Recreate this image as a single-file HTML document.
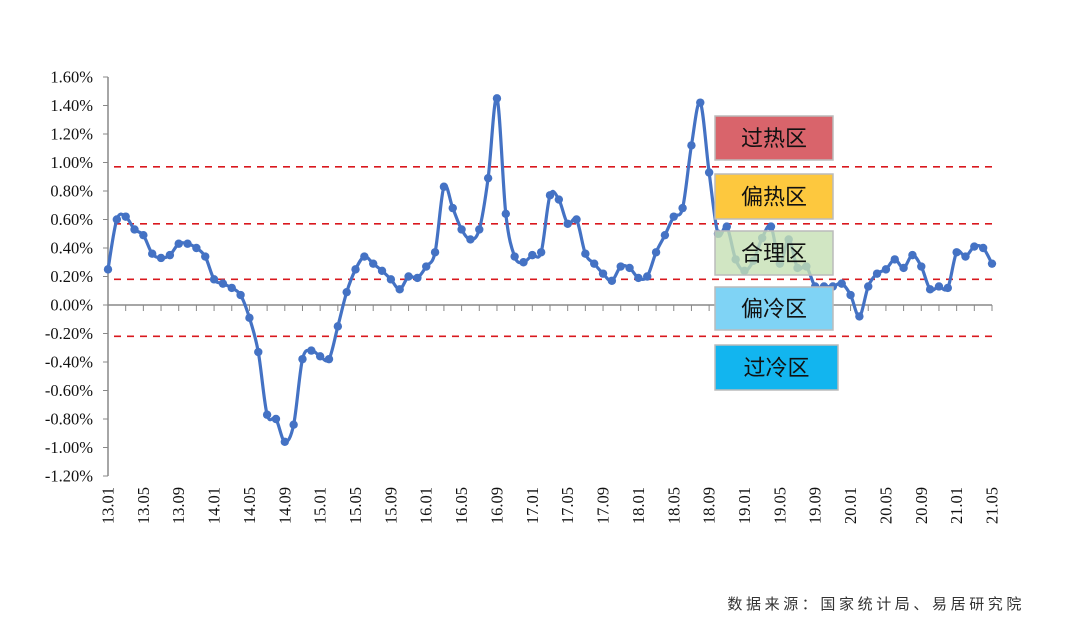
<!DOCTYPE html>
<html><head><meta charset="utf-8"><style>
body{margin:0;background:#fff;width:1073px;height:628px;overflow:hidden}
svg text{font-family:"Liberation Serif","Noto Serif CJK SC",serif}
</style></head><body>
<svg id="c" width="1073" height="628">
<g id="grid"></g><g id="axes"></g><g id="series"></g><g id="zones"></g>
<text x="1025" y="609" text-anchor="end" font-size="15" fill="#333" style="font-family:'Liberation Sans','Noto Sans CJK SC',sans-serif;letter-spacing:3.6px">数据来源：国家统计局、易居研究院</text>
</svg>
<script>
const values=[0.25,0.60,0.62,0.53,0.49,0.36,0.33,0.35,0.43,0.43,0.40,0.34,0.18,0.15,0.12,0.07,-0.09,-0.33,-0.77,-0.80,-0.96,-0.84,-0.38,-0.32,-0.36,-0.38,-0.15,0.09,0.25,0.34,0.29,0.24,0.18,0.11,0.20,0.19,0.27,0.37,0.83,0.68,0.53,0.46,0.53,0.89,1.45,0.64,0.34,0.30,0.35,0.37,0.77,0.74,0.57,0.60,0.36,0.29,0.22,0.17,0.27,0.26,0.19,0.20,0.37,0.49,0.62,0.68,1.12,1.42,0.93,0.50,0.55,0.32,0.24,0.31,0.47,0.55,0.29,0.46,0.26,0.27,0.13,0.13,0.13,0.15,0.07,-0.08,0.13,0.22,0.25,0.32,0.26,0.35,0.27,0.11,0.13,0.12,0.37,0.34,0.41,0.40,0.29];
const yTicks=[1.6,1.4,1.2,1.0,0.8,0.6,0.4,0.2,0,-0.2,-0.4,-0.6,-0.8,-1.0,-1.2];
const xLabels=["13.01","13.05","13.09","14.01","14.05","14.09","15.01","15.05","15.09","16.01","16.05","16.09","17.01","17.05","17.09","18.01","18.05","18.09","19.01","19.05","19.09","20.01","20.05","20.09","21.01","21.05"];
const thresholds=[0.97,0.57,0.18,-0.22];
const zoneNames=["过热区","偏热区","合理区","偏冷区","过冷区"];
const NS="http://www.w3.org/2000/svg";
const x0=108,x1=992,yTop=77,yBot=476;
const X=i=>x0+(x1-x0)*i/(values.length-1);
const Y=v=>yTop+(1.6-v)/(2.8)*(yBot-yTop);
function mk(t,a,p){const e=document.createElementNS(NS,t);for(const k in a)e.setAttribute(k,a[k]);p.appendChild(e);return e;}
const axes=document.getElementById('axes'),grid=document.getElementById('grid'),ser=document.getElementById('series'),zones=document.getElementById('zones');
let yl=mk('line',{x1:x0,x2:x0,y1:yTop,y2:yBot,stroke:'#888','stroke-width':1.5},axes);


yTicks.forEach(v=>{const y=Y(v);
 mk('line',{x1:x0-5,x2:x0,y1:y,y2:y,stroke:'#888'},axes);
 const t=mk('text',{x:93,y:y+5.5,'text-anchor':'end','font-size':16.5,fill:'#111'},axes);
 t.textContent=v.toFixed(2)+'%';
 
 });
const y0=Y(0);
let xl=mk('line',{x1:x0,x2:x1,y1:y0,y2:y0,stroke:'#888','stroke-width':1.5},axes);


for(let i=0;i<values.length;i+=2){mk('line',{x1:X(i),x2:X(i),y1:y0,y2:y0+6,stroke:'#888'},axes);}
xLabels.forEach((l,k)=>{const x=X(k*4);
 const t=mk('text',{x:0,y:0,'text-anchor':'end','font-size':16.5,fill:'#111'},axes);
 t.setAttribute('transform',`translate(${x+5.5},487) rotate(-90)`);
 t.textContent=l;
 
 });
thresholds.forEach(v=>{const l=mk('line',{x1:x0+6,x2:x1,y1:Y(v),y2:Y(v),stroke:'#d9181e','stroke-width':1.6,'stroke-dasharray':'7,6'},grid);
 
 });
let d='';const pts=values.map((v,i)=>[X(i),Y(v)]);
for(let i=0;i<pts.length;i++){if(i==0){d+=`M${pts[0][0]},${pts[0][1]}`;continue;}
 const p0=pts[Math.max(0,i-2)],p1=pts[i-1],p2=pts[i],p3=pts[Math.min(pts.length-1,i+1)];
 d+=`C${p1[0]+(p2[0]-p0[0])/6},${p1[1]+(p2[1]-p0[1])/6} ${p2[0]-(p3[0]-p1[0])/6},${p2[1]-(p3[1]-p1[1])/6} ${p2[0]},${p2[1]}`;}
const path=mk('path',{d:d,fill:'none',stroke:'#4472c4','stroke-width':3.2},ser);


pts.forEach(p=>{const c=mk('circle',{cx:p[0],cy:p[1],r:4.2,fill:'#4472c4'},ser);
 
 });
const boxes=[[715,116,118,44,'#d9646b',1],[715,174,118,45,'#fdc83e',1],[715,231,118,44,'#c6e0b4',0.8],[715,287,118,43,'#7fd3f5',1],[715,345,123,45,'#12b5ef',1]];
boxes.forEach((b,k)=>{const r=mk('rect',{x:b[0],y:b[1],width:b[2],height:b[3],fill:b[4],'fill-opacity':b[5],stroke:'#bbb','stroke-width':1.5},zones);
 
 
 const t=mk('text',{x:b[0]+b[2]/2,y:b[1]+b[3]/2+8,'text-anchor':'middle','font-size':22,fill:'#111',style:"font-family:'Liberation Sans','Noto Sans CJK SC',sans-serif"},zones);
 t.textContent=zoneNames[k];
 
 });
</script>
</body></html>
